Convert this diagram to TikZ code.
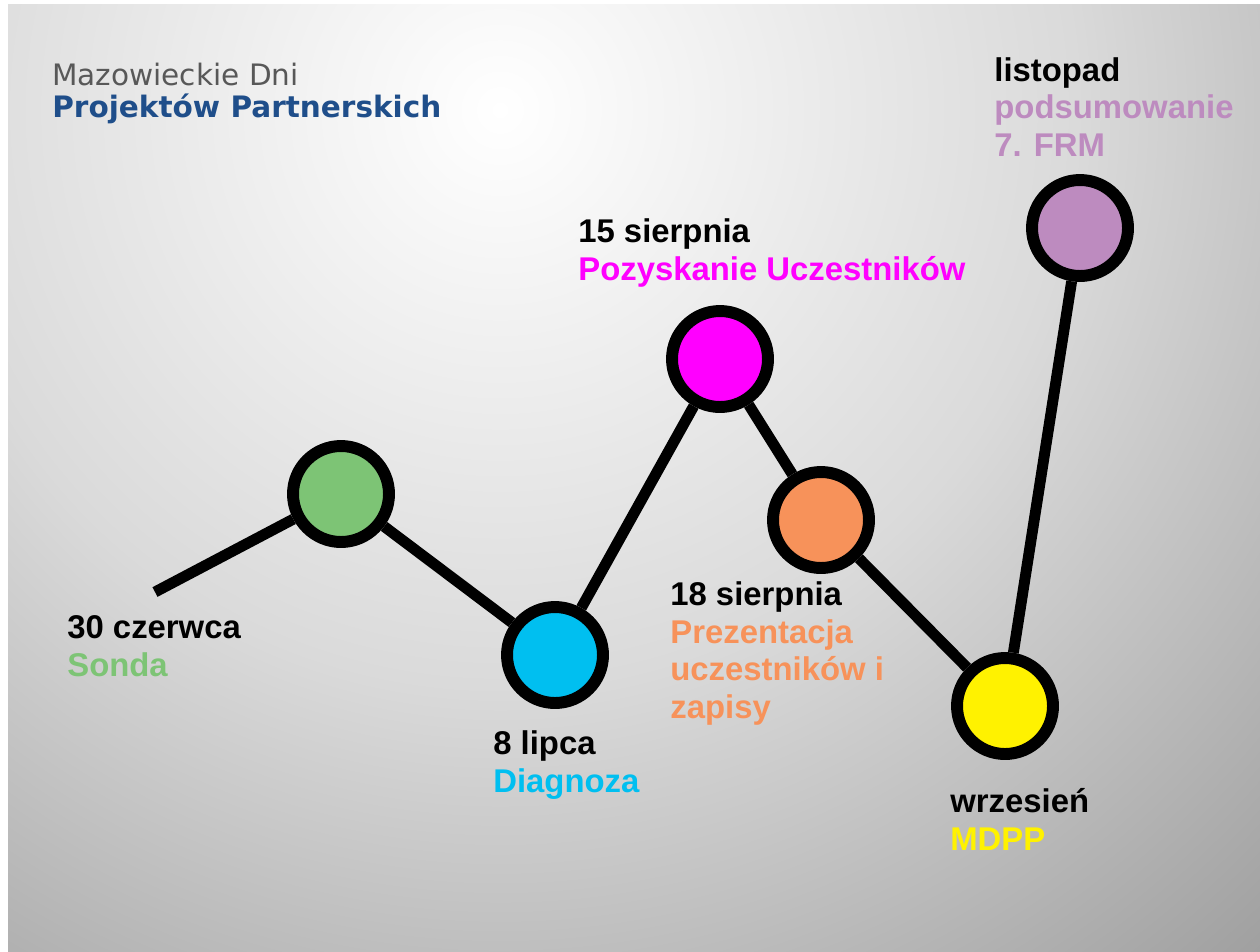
\documentclass[tikz,border=0pt]{standalone}
\usepackage{fontspec}
\setmainfont{Liberation Sans}
\newfontfamily\titlefont{DejaVu Sans}
\usetikzlibrary{positioning}

\definecolor{sondagreen}{HTML}{7DC475}
\definecolor{diagblue}{HTML}{00BFF0}
\definecolor{pozmagenta}{HTML}{FF00FF}
\definecolor{prezorange}{HTML}{F7925A}
\definecolor{mdppyellow}{HTML}{FFF200}
\definecolor{frmpurple}{HTML}{BD8BBF}
\definecolor{titlegrey}{HTML}{585858}
\definecolor{titleblue}{HTML}{1F4E8A}
\definecolor{bgmid}{HTML}{DADADA}
\definecolor{bgedge}{HTML}{9E9E9E}

% 25bp odpowiada promieniowi cieniowanego kola
\pgfdeclareradialshading{slidebg}{\pgfpoint{0bp}{0bp}}{%
    color(0bp)=(white); color(12bp)=(bgmid); color(24bp)=(bgedge); color(50bp)=(bgedge)}

\begin{document}
\begin{tikzpicture}[
    x=0.02cm, y=-0.02cm,
    milestone/.style={circle, draw=black, line width=6.8pt, minimum size=1.92cm, inner sep=0pt},
    link/.style={line width=6.2pt},
    datelabel/.style={anchor=base west, align=left, inner sep=0pt,
        font=\bfseries\fontsize{18.7}{21.3}\selectfont}
]
    % tlo slajdu
    \useasboundingbox (0,0) rectangle (1260,951);
    \fill[white] (0,0) rectangle (1260,951);
    \begin{scope}
        \clip (8,4) rectangle (1260,951);
        \shade[shading=slidebg] (500,110) circle (1200);
    \end{scope}

    % tytul (kotwica na linii bazowej ostatniego wiersza)
    \node[anchor=base west, align=left, inner sep=0pt,
        font=\titlefont\fontsize{16.8}{18.1}\selectfont] (tytul) at (52,117)
        {\textcolor{titlegrey}{Mazowieckie Dni}\\\textcolor{titleblue}{\bfseries Projektów Partnerskich}};

    % etapy
    \coordinate (start) at (155,592);
    \node[milestone, fill=sondagreen] (sonda) at (341,494) {};
    \node[milestone, fill=diagblue] (diagnoza) at (555,655) {};
    \node[milestone, fill=pozmagenta] (pozyskanie) at (720,359) {};
    \node[milestone, fill=prezorange] (prezentacja) at (821,520) {};
    \node[milestone, fill=mdppyellow] (mdpp) at (1005,706) {};
    \node[milestone, fill=frmpurple] (frm) at (1080,228) {};

    \draw[link] (start) -- (sonda) -- (diagnoza) -- (pozyskanie)
        -- (prezentacja) -- (mdpp) -- (frm);

    % opisy
    \node[datelabel] (sondalbl) at (67,676)
        {30 czerwca\\\textcolor{sondagreen}{Sonda}};
    \node[datelabel] (diaglbl) at (493,792)
        {8 lipca\\\textcolor{diagblue}{Diagnoza}};
    \node[datelabel] (pozlbl) at (578,280)
        {15 sierpnia\\\textcolor{pozmagenta}{Pozyskanie Uczestników}};
    \node[datelabel] (prezlbl) at (670,718)
        {18 sierpnia\\\textcolor{prezorange}{Prezentacja}\\\textcolor{prezorange}{uczestników i}\\\textcolor{prezorange}{zapisy}};
    \node[datelabel] (mdpplbl) at (950,850)
        {wrzesień\\\textcolor{mdppyellow}{MDPP}};
    \node[datelabel] (frmlbl) at (994,156)
        {listopad\\\textcolor{frmpurple}{podsumowanie}\\\textcolor{frmpurple}{7. FRM}};
\end{tikzpicture}
\end{document}
